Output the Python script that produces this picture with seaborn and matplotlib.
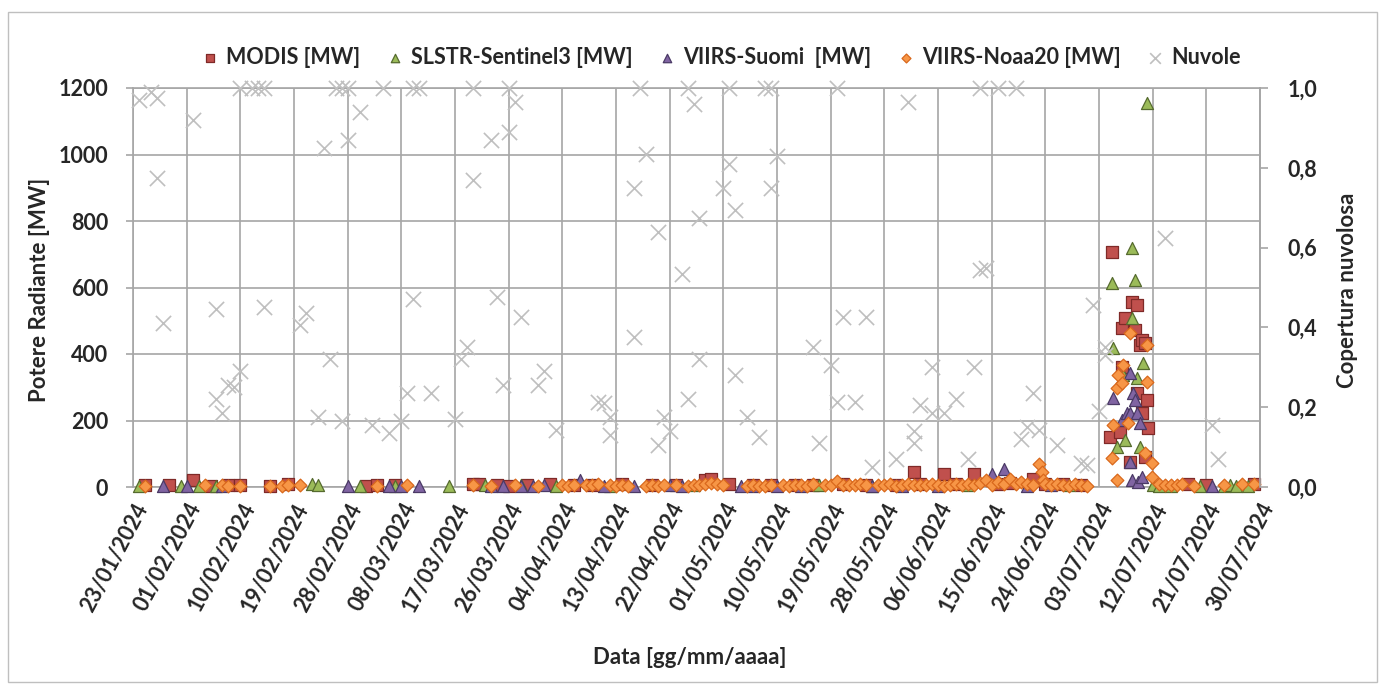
import numpy as np
import pandas as pd
import seaborn as sns
import matplotlib
matplotlib.use('Agg')
from matplotlib import pyplot as plt
import matplotlib.dates as mdates
from matplotlib.ticker import FuncFormatter, MultipleLocator
from matplotlib.patches import Rectangle

# day offsets from 23/01/2024 and values
start = pd.Timestamp('2024-01-23')
end = pd.Timestamp('2024-07-30')

modis_day = [2, 6, 10, 13, 16, 18, 23, 26, 39, 41, 44, 57, 58, 61, 63, 66, 70, 74, 77, 82, 87, 91, 96,
             97, 100, 104, 107, 111, 114, 119, 123, 128, 131, 132, 136, 138, 141, 145, 147, 151, 153,
             156, 159, 177, 180, 188,
             163.8, 164.2, 165.5, 165.9, 165.9, 166.4, 167.2, 167.5, 168.0, 168.4, 168.4, 168.9,
             169.2, 169.2, 169.7, 169.7, 170.0, 170.2]
modis_mw = [5, 5, 20, 3, 6, 5, 3, 8, 4, 5, 5, 8, 10, 5, 4, 6, 8, 5, 6, 8, 5, 6, 20,
            25, 8, 6, 5, 6, 5, 10, 6, 6, 45, 8, 40, 10, 40, 10, 12, 25, 8,
            10, 6, 8, 6, 8,
            150, 707, 165, 478, 361, 508, 75, 556, 472, 547, 283, 427,
            442, 223, 433, 90, 262, 177]

slstr_day = [1, 8, 11, 14, 30, 31, 38, 44, 53, 59, 65, 71, 80, 94, 115, 124, 140, 157, 171, 172, 174,
             179, 183, 184, 185, 187,
             164.2, 164.3, 165.0, 166.0, 166.4, 167.5, 167.5, 168.0, 168.4, 168.9, 169.4, 170.0]
slstr_mw = [3, 4, 3, 3, 8, 5, 3, 4, 3, 5, 5, 4, 4, 5, 6, 4, 5, 6, 5, 3, 4,
            4, 3, 5, 4, 4,
            614, 418, 120, 337, 141, 719, 508, 623, 328, 120, 373, 1155]

suomi_day = [5, 9, 15, 36, 43, 45, 48, 60, 62, 65, 67, 69, 75, 79, 84, 90, 92, 102, 104, 108, 112,
             124, 129, 135, 144, 146, 150, 154, 181,
             164.3, 165.9, 166.7, 167.2, 167.2, 167.2, 167.5, 167.7, 168.0, 168.4, 168.5, 168.9, 169.2]
suomi_mw = [3, 4, 4, 2, 3, 2, 2, 4, 3, 3, 2, 6, 20, 3, 4, 5, 3, 3, 3, 3, 4,
            4, 3, 4, 40, 55, 4, 5, 3,
            268, 201, 223, 343, 223, 75, 21, 283, 262, 223, 15, 192, 30]

noaa_day = [2, 12, 15, 16, 18, 23, 25, 26, 28, 41, 46, 57, 60, 64, 68, 72, 73, 74, 76, 77, 78, 80,
            81, 82, 83, 86, 87, 88, 89, 91, 93, 94, 95, 96, 97, 98, 99, 103, 104, 105, 106, 107,
            109, 110, 111, 112, 113, 114, 116, 117, 118, 119, 120, 121, 122, 123, 125, 126, 127,
            128, 129, 130, 131, 132, 133, 134, 135, 136, 137, 138, 139, 140, 141, 142, 143, 144,
            145, 146, 147, 148, 149, 150, 151, 152, 152.4, 152.6, 153, 154, 155, 156, 157, 158,
            159, 160, 172, 173, 174, 175, 176, 178, 183, 186, 188,
            164.2, 164.3, 165.0, 165.0, 165.2, 165.9, 166.0, 166.9, 167.2, 169.7, 170.0, 170.0,
            170.9, 170.9]
noaa_mw = [3, 5, 5, 4, 4, 2, 4, 6, 5, 4, 6, 6, 4, 5, 4, 5, 4, 6, 5, 7, 8, 5,
           4, 6, 4, 3, 5, 4, 6, 5, 4, 6, 5, 8, 12, 10, 5, 3, 5, 4, 4, 6,
           5, 4, 6, 5, 4, 8, 6, 5, 18, 7, 5, 6, 8, 5, 5, 5, 8,
           4, 6, 10, 5, 6, 5, 8, 6, 4, 6, 10, 5, 8, 6, 12, 20, 6,
           15, 8, 25, 8, 15, 10, 6, 70, 45, 20, 8, 5, 10, 6, 4, 8,
           5, 4, 10, 6, 5, 5, 8, 4, 5, 8, 10,
           87, 186, 298, 21, 337, 313, 367, 192, 463, 102, 427, 316,
           72, 30]

cloud_day = [1, 3, 4, 4, 5, 10, 14, 14, 15, 16, 17, 18, 18, 20, 21, 22, 22, 28, 29, 31, 32, 33,
             34, 35, 36, 35, 36, 38, 40, 42, 43, 45, 46, 47, 47, 48, 50, 54, 55, 56, 57, 57,
             60, 61, 63, 64, 63, 65, 62, 69, 68, 71, 78, 79, 80, 80, 84, 85, 86, 88, 84, 89,
             90, 88, 92, 93, 94, 95, 95, 93, 100, 100, 99, 101, 101, 103, 105, 106, 107, 108, 107,
             114, 117, 115, 118, 119, 123, 118, 121, 124, 128, 130, 131, 131, 132, 134, 134, 136,
             138, 140, 142, 143, 141, 142, 145, 148, 149, 150, 151, 152, 155, 159, 160, 161, 163,
             163, 162, 173, 181, 182]
cloud_val = [0.97, 0.99, 0.975, 0.775, 0.41, 0.92, 0.445, 0.22, 0.185, 0.255, 0.25, 0.29, 1.0,
             1.0, 1.0, 1.0, 0.45, 0.405, 0.435, 0.175, 0.85, 0.32,
             1.0, 1.0, 1.0, 0.165, 0.87, 0.94, 0.155, 1.0, 0.135, 0.165, 0.235, 0.47, 1.0, 1.0,
             0.235, 0.17, 0.32, 0.35, 1.0, 0.77,
             0.87, 0.475, 1.0, 0.965, 0.89, 0.425, 0.255, 0.29, 0.255, 0.143, 0.213, 0.21, 0.175,
             0.13, 0.75, 1.0, 0.835, 0.64, 0.375, 0.175,
             0.14, 0.105, 0.535, 1.0, 0.96, 0.675, 0.32, 0.22, 1.0, 0.81, 0.75, 0.695, 0.28,
             0.175, 0.125, 1.0, 1.0, 0.83, 0.75,
             0.35, 0.305, 0.11, 1.0, 0.425, 0.425, 0.213, 0.213, 0.05, 0.07, 0.965, 0.14, 0.11,
             0.205, 0.185, 0.3, 0.185,
             0.22, 0.07, 0.545, 0.55, 0.3, 1.0, 1.0, 1.0, 0.12, 0.15, 0.235, 0.143, 0.105, 0.06,
             0.055, 0.455, 0.35, 0.33, 0.19, 0.625, 0.155, 0.07]


def to_dates(days):
    return start + pd.to_timedelta(np.array(days, dtype=float), unit='D')


sns.set_style('white')
plt.rcParams['font.family'] = ['Lato', 'DejaVu Sans']
plt.rcParams['font.weight'] = 'bold'

fig = plt.figure(figsize=(13.84, 6.86), dpi=100)
ax = fig.add_axes([133 / 1384, 1 - 487 / 686, (1260 - 133) / 1384, (487 - 88) / 686])
ax2 = ax.twinx()

grid_c = '#A6A6A6'

# cloud cover on the secondary axis
sns.scatterplot(x=to_dates(cloud_day), y=cloud_val, ax=ax2, marker='x', s=120,
                color='#BFBFBF', linewidth=1.2, label='Nuvole', legend=False, zorder=2)

series = [
    (modis_day, modis_mw, 's', '#C0504D', '#7F2A28', 75, 'MODIS [MW]'),
    (slstr_day, slstr_mw, '^', '#9BBB59', '#566B2F', 75, 'SLSTR-Sentinel3 [MW]'),
    (suomi_day, suomi_mw, '^', '#8064A2', '#4B3A66', 75, 'VIIRS-Suomi  [MW]'),
    (noaa_day, noaa_mw, 'D', '#F79646', '#D9681C', 42, 'VIIRS-Noaa20 [MW]'),
]
for d, v, m, fc, ec, s, lab in series:
    sns.scatterplot(x=to_dates(d), y=v, ax=ax, marker=m, s=s, color=fc,
                    edgecolor=ec, linewidth=0.9, label=lab, legend=False, zorder=3)
for coll in ax.collections + ax2.collections:
    coll.set_clip_on(False)

# primary axis
ax.set_xlim(start, end)
ax.set_ylim(0, 1200)
ax.yaxis.set_major_locator(MultipleLocator(200))
ax.set_xticks(pd.date_range(start, end, freq='9D'))
ax.xaxis.set_major_formatter(mdates.DateFormatter('%d/%m/%Y'))
ax.grid(True, color=grid_c, linewidth=1.2)
ax.set_axisbelow(True)
for sp in ax.spines.values():
    sp.set_color(grid_c)
    sp.set_linewidth(1.2)
ax.tick_params(axis='both', direction='out', length=5, width=1.2, color=grid_c,
               labelsize=15.5, pad=4)
ax.tick_params(axis='y', pad=13)
for lbl in ax.get_xticklabels():
    lbl.set_rotation(62)
    lbl.set_ha('right')
    lbl.set_rotation_mode('anchor')
    lbl.set_fontweight('bold')
for lbl in ax.get_yticklabels():
    lbl.set_fontweight('bold')
ax.set_xlabel('')
ax.set_ylabel('')

# secondary axis
ax2.set_ylim(0, 1)
ax2.set_yticks(np.arange(0, 1.01, 0.2))
ax2.yaxis.set_major_formatter(FuncFormatter(lambda v, p: f'{v:.1f}'.replace('.', ',')))
ax2.grid(False)
for sp in ax2.spines.values():
    sp.set_visible(False)
ax2.spines['right'].set_visible(True)
ax2.spines['right'].set_color(grid_c)
ax2.spines['right'].set_linewidth(1.2)
ax2.tick_params(axis='y', direction='out', length=6, width=1.2, color=grid_c,
                labelsize=15.5, pad=14)
for lbl in ax2.get_yticklabels():
    lbl.set_fontweight('bold')
ax2.set_ylabel('')

# axis titles
fig.text(40 / 1384, 1 - 290 / 686, 'Potere Radiante [MW]', rotation=90, ha='center',
         va='center', fontsize=16, fontweight='bold')
fig.text(1347 / 1384, 1 - 290 / 686, 'Copertura nuvolosa', rotation=90, ha='center',
         va='center', fontsize=16, fontweight='bold')
fig.text(690 / 1384, 1 - 657 / 686, 'Data [gg/mm/aaaa]', ha='center', va='center',
         fontsize=16, fontweight='bold')

# legend
h1, l1 = ax.get_legend_handles_labels()
h2, l2 = ax2.get_legend_handles_labels()
fig.legend(h1 + h2, l1 + l2, loc='center', bbox_to_anchor=(720 / 1384, 1 - 57 / 686), ncol=5,
           frameon=False, markerscale=0.7, handletextpad=0.25, columnspacing=1.1,
           handlelength=1.0, prop={'weight': 'bold', 'size': 15.5})

# chart border
fig.patches.append(Rectangle((8 / 1384, 4 / 686), 1369 / 1384, 670 / 686, transform=fig.transFigure,
                             fill=False, edgecolor='#BFBFBF', linewidth=1))

fig.savefig('out.png', dpi=100)
